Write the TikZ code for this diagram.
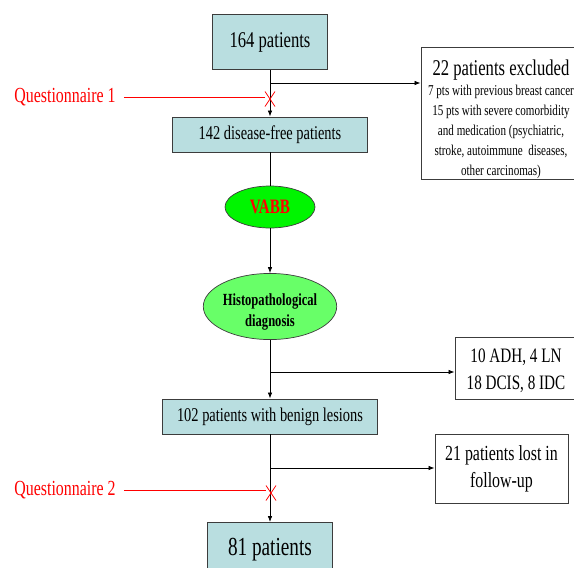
\documentclass[tikz,border=0pt]{standalone}
\usepackage{fontspec}
\setmainfont{Liberation Serif}[FakeStretch=0.74]
\usetikzlibrary{shapes.geometric,arrows.meta}

\definecolor{cajaAzul}{RGB}{185,222,224}
\definecolor{verdeVabb}{RGB}{0,245,0}
\definecolor{verdeHisto}{RGB}{104,255,104}
\definecolor{bordeGris}{RGB}{60,60,60}

\begin{document}
\begin{tikzpicture}[x=1pt, y=-1pt,
        box/.style={draw=bordeGris, fill=cajaAzul, line width=0.9pt, align=center, inner sep=0pt},
        note/.style={draw=bordeGris, fill=white, line width=0.9pt, align=center, inner sep=0pt},
        oval/.style={ellipse, draw=bordeGris, line width=0.7pt, align=center, inner sep=0pt},
        quest/.style={text=red, inner sep=0pt, font=\fontsize{21.5}{23}\selectfont},
        arrow/.style={-{Latex[length=6pt,width=4.5pt]}, line width=0.7pt},
        link/.style={line width=0.7pt},
        redline/.style={red, line width=0.8pt}
    ]
    \useasboundingbox (0,0) rectangle (574,568);
    % Cajas
    \node[box, minimum width=115pt, minimum height=55pt, font=\fontsize{22.5}{24}\selectfont] (totalPatients) at (270,42) {164 patients};
    \node[box, minimum width=195pt, minimum height=35pt, font=\fontsize{19.5}{21}\selectfont] (diseaseFree) at (270,134.5) {142 disease-free patients};
    \node[oval, fill=verdeVabb, minimum width=90pt, minimum height=42pt, text=red, font=\bfseries\fontsize{20.5}{22}\selectfont] (vabb) at (270,207) {VABB};
    \node[oval, fill=verdeHisto, minimum width=130pt, minimum height=61pt, font=\bfseries\fontsize{17}{21}\selectfont] (histoDiag) at (270,306.5) {\rule{0pt}{22pt}Histopathological\\ diagnosis};
    \node[box, minimum width=215pt, minimum height=35pt, font=\fontsize{19.5}{21}\selectfont] (benignLesions) at (270,416.5) {102 patients with benign lesions};
    \node[box, minimum width=125pt, minimum height=55pt, font=\fontsize{26}{28}\selectfont] (finalPatients) at (270,550) {81 patients};

    \node[note, minimum width=160pt, minimum height=131pt, font=\fontsize{15}{20}\selectfont] (excluded) at (501,113.5) {\rule{0pt}{28pt}{\fontsize{22.5}{23}\selectfont 22 patients excluded}\\ 7 pts with previous breast cancer\\ 15 pts with severe comorbidity\\ and medication (psychiatric,\\ stroke, autoimmune~ diseases,\\ other carcinomas)};
    \node[note, minimum width=122pt, minimum height=62pt, font=\fontsize{20.5}{27}\selectfont] (malignant) at (516,368) {\rule{0pt}{20pt}10 ADH, 4 LN\\ 18 DCIS, 8 IDC};
    \node[note, minimum width=133pt, minimum height=69pt, font=\fontsize{21.5}{27}\selectfont] (lostFollowUp) at (501.5,468.5) {21 patients lost in\\ follow-up};

    \node[quest] (questOne) at (65,97) {Questionnaire 1};
    \node[quest] (questTwo) at (65,490) {Questionnaire 2};

    \coordinate (splitOne) at (270,83);
    \coordinate (splitTwo) at (270,372);
    \coordinate (splitThree) at (270,468);
    \coordinate (crossOne) at (270,99);
    \coordinate (crossTwo) at (271,493);
    % Flechas
    \draw[arrow] (totalPatients) -- (diseaseFree);
    \draw[link] (diseaseFree) -- (vabb);
    \draw[arrow] (vabb) -- (histoDiag);
    \draw[arrow] (histoDiag) -- (benignLesions);
    \draw[arrow] (benignLesions) -- (finalPatients);

    \draw[arrow] (splitOne) -- (splitOne -| excluded.west);
    \draw[arrow] (splitTwo) -- (splitTwo -| malignant.west);
    \draw[arrow] (splitThree) -- (splitThree -| lostFollowUp.west);

    % Cuestionarios
    \draw[redline] ([xshift=8pt]questOne.east) -- ([xshift=-5pt,yshift=2pt]crossOne);
    \draw[redline] ([xshift=-5pt,yshift=7.5pt]crossOne) -- ([xshift=5pt,yshift=-7.5pt]crossOne);
    \draw[redline] ([xshift=5pt,yshift=7.5pt]crossOne) -- ([xshift=-5pt,yshift=-7.5pt]crossOne);
    \draw[redline] ([xshift=8pt]questTwo.east) -- ([xshift=-5pt,yshift=3pt]crossTwo);
    \draw[redline] ([xshift=-5pt,yshift=7.5pt]crossTwo) -- ([xshift=5pt,yshift=-7.5pt]crossTwo);
    \draw[redline] ([xshift=5pt,yshift=7.5pt]crossTwo) -- ([xshift=-5pt,yshift=-7.5pt]crossTwo);
\end{tikzpicture}
\end{document}
